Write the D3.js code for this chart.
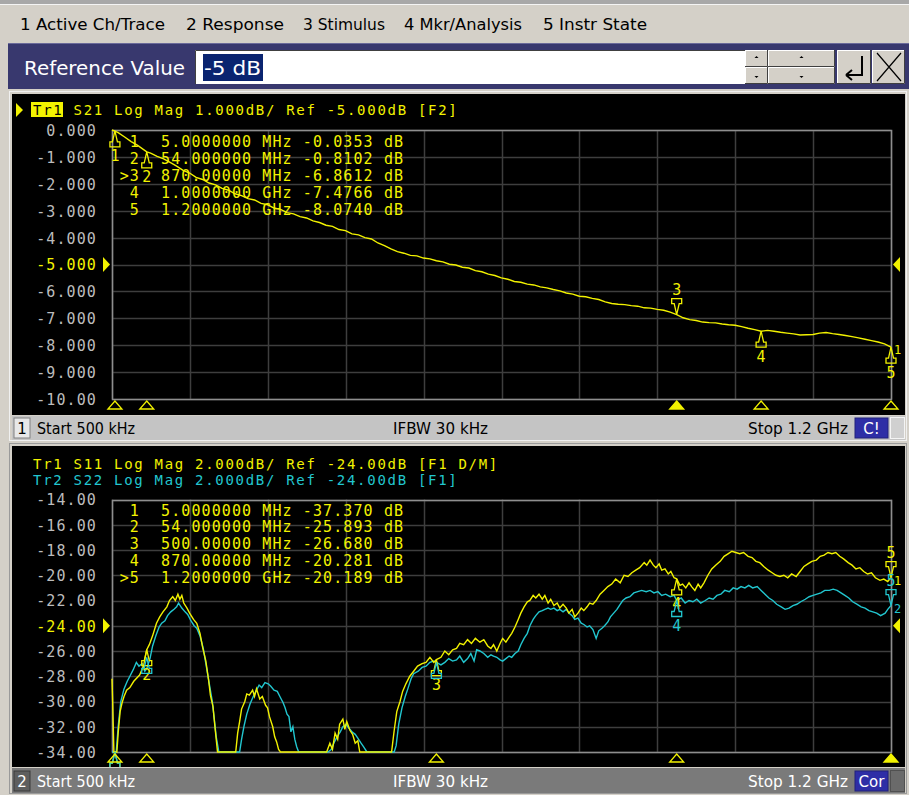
<!DOCTYPE html>
<html><head><meta charset="utf-8">
<script src="https://cdn.jsdelivr.net/npm/d3@7"></script>
<style>
body{margin:0;background:#d4d0c8;overflow:hidden}
svg{display:block}
text{white-space:pre}
</style></head><body>
<script>
// ---------------- DATA ----------------
const menuItems = ["1 Active Ch/Trace","2 Response","3 Stimulus","4 Mkr/Analysis","5 Instr State"];
const refLabel = "Reference Value";
const refEntry = "-5 dB";

const sweepStartMHz = 0.5, sweepStopMHz = 1200;
const statusTexts = ["Start 500 kHz","IFBW 30 kHz","Stop 1.2 GHz"];

// Channel 1 (S21)
const ch1Trace = "Tr1";
const ch1Header = "S21 Log Mag 1.000dB/ Ref -5.000dB [F2]";
const ch1Ticks = [0,-1,-2,-3,-4,-5,-6,-7,-8,-9,-10];
const ch1TickLabels = ["0.000","-1.000","-2.000","-3.000","-4.000","-5.000","-6.000","-7.000","-8.000","-9.000","-10.00"];
const ch1Ref = -5;
const s21 = [[0.5,-0.00],[5,-0.04],[10,-0.10],[20,-0.26],[30,-0.43],[40,-0.57],[54,-0.81],[60,-0.86],[70,-0.98],[80,-1.07],[90,-1.20],[100,-1.34],[110,-1.50],[120,-1.60],[130,-1.76],[140,-1.84],[150,-1.97],[160,-2.04],[170,-2.17],[180,-2.24],[190,-2.37],[200,-2.44],[210,-2.55],[220,-2.60],[230,-2.73],[240,-2.78],[250,-2.90],[260,-2.95],[270,-3.07],[280,-3.12],[290,-3.22],[300,-3.27],[310,-3.38],[320,-3.44],[330,-3.54],[340,-3.58],[350,-3.70],[360,-3.74],[370,-3.86],[380,-3.90],[390,-4.00],[400,-4.05],[410,-4.20],[420,-4.30],[430,-4.42],[440,-4.52],[450,-4.58],[460,-4.66],[470,-4.68],[480,-4.76],[490,-4.79],[500,-4.86],[510,-4.90],[520,-4.99],[530,-5.02],[540,-5.10],[550,-5.13],[560,-5.23],[570,-5.27],[580,-5.36],[590,-5.41],[600,-5.50],[610,-5.55],[620,-5.63],[630,-5.66],[640,-5.73],[650,-5.76],[660,-5.83],[670,-5.87],[680,-5.93],[690,-5.98],[700,-6.06],[710,-6.10],[720,-6.18],[730,-6.20],[740,-6.26],[750,-6.30],[760,-6.39],[770,-6.45],[780,-6.48],[790,-6.49],[800,-6.53],[810,-6.55],[820,-6.61],[830,-6.62],[840,-6.67],[850,-6.70],[860,-6.77],[870,-6.86],[880,-6.98],[890,-7.05],[900,-7.08],[910,-7.14],[920,-7.16],[930,-7.17],[940,-7.21],[950,-7.24],[960,-7.26],[970,-7.31],[980,-7.37],[990,-7.42],[1000,-7.48],[1010,-7.45],[1020,-7.48],[1030,-7.52],[1040,-7.55],[1050,-7.58],[1060,-7.62],[1070,-7.61],[1080,-7.60],[1090,-7.55],[1100,-7.53],[1110,-7.57],[1120,-7.60],[1130,-7.64],[1140,-7.68],[1150,-7.73],[1160,-7.78],[1170,-7.83],[1180,-7.88],[1190,-7.95],[1200,-8.07]];
const ch1MarkerIdx = ["1","2",">3","4","5"];
const ch1MarkerFreqTxt = ["5.0000000","54.000000","870.00000","1.0000000","1.2000000"];
const ch1MarkerUnit = ["MHz","MHz","MHz","GHz","GHz"];
const ch1MarkerValTxt = ["-0.0353","-0.8102","-6.8612","-7.4766","-8.0740"];
const ch1MarkerFreq = [5,54,870,1000,1200];
const ch1MarkerVal = [-0.0353,-0.8102,-6.8612,-7.4766,-8.0740];
const ch1Active = 2;

// Channel 2 (S11, S22)
const ch2Header1 = "Tr1 S11 Log Mag 2.000dB/ Ref -24.00dB [F1 D/M]";
const ch2Header2 = "Tr2 S22 Log Mag 2.000dB/ Ref -24.00dB [F1]";
const ch2Ticks = [-14,-16,-18,-20,-22,-24,-26,-28,-30,-32,-34];
const ch2TickLabels = ["-14.00","-16.00","-18.00","-20.00","-22.00","-24.00","-26.00","-28.00","-30.00","-32.00","-34.00"];
const ch2Ref = -24;
const s11 = [[0.5,-28.2],[1.5,-30.0],[3.4,-36],[5,-37.37],[8,-34.5],[10,-32.5],[13,-30.8],[16,-30.1],[19,-29.6],[23,-29.1],[28,-28.9],[34,-28.4],[43,-27.9],[49,-27.2],[54,-25.89],[58,-25.5],[63,-24.8],[69,-23.8],[74,-23.3],[79,-22.9],[85,-22.5],[89,-22.0],[94,-21.7],[98,-22.0],[102,-21.5],[105,-21.9],[108,-21.6],[111,-22.2],[116,-22.6],[120,-23.0],[126,-23.5],[131,-23.8],[136,-24.6],[140,-25.7],[145,-26.8],[149,-28.2],[152,-29.5],[156,-30.4],[159,-32.0],[162,-33.5],[163,-34.3],[174,-38],[188,-38],[191,-34.5],[194,-32.5],[197,-31.6],[200,-30.6],[205,-30.0],[208,-29.4],[212,-29.5],[217,-29.1],[220,-29.6],[223,-29.0],[228,-29.8],[232,-29.6],[237,-30.3],[240,-30.5],[243,-31.2],[248,-32.0],[251,-32.8],[254,-33.2],[257,-33.8],[260,-34.5],[290,-38],[328,-38],[331,-34.5],[336,-33.3],[340,-33.8],[344,-32.5],[348,-33.0],[351,-31.8],[356,-31.4],[359,-32.2],[362,-31.6],[367,-32.3],[371,-32.6],[375,-33.3],[379,-33.1],[382,-34.2],[385,-34.5],[413,-38],[428,-38],[431,-34.5],[435,-32.3],[439,-30.8],[444,-30.0],[448,-29.2],[453,-28.6],[459,-28.0],[465,-27.6],[471,-27.2],[478,-27.0],[484,-26.9],[490,-26.5],[496,-26.9],[500,-26.68],[507,-26.5],[513,-26.0],[519,-26.3],[525,-25.9],[531,-25.8],[536,-25.4],[542,-25.5],[548,-25.1],[554,-25.4],[560,-25.0],[567,-25.3],[573,-25.1],[579,-25.6],[584,-25.8],[588,-25.5],[593,-26.0],[598,-25.4],[602,-25.0],[607,-25.3],[612,-24.9],[616,-24.6],[621,-24.1],[626,-23.5],[630,-23.0],[635,-22.5],[640,-22.1],[644,-22.0],[649,-21.6],[653,-21.8],[658,-21.5],[663,-21.9],[667,-21.6],[672,-22.2],[676,-21.9],[681,-22.4],[686,-22.2],[690,-22.6],[695,-22.3],[700,-22.6],[704,-23.0],[709,-22.7],[713,-23.3],[718,-23.0],[723,-22.6],[727,-22.8],[732,-22.5],[736,-22.2],[741,-22.3],[746,-22.0],[752,-21.5],[758,-21.2],[764,-20.9],[770,-20.7],[776,-20.3],[783,-20.6],[789,-20.0],[795,-20.1],[801,-19.8],[807,-19.6],[813,-19.4],[820,-19.0],[824,-19.2],[829,-18.8],[834,-19.2],[838,-19.4],[843,-19.1],[847,-19.6],[852,-19.5],[857,-19.9],[861,-19.7],[866,-20.2],[870,-20.28],[875,-20.8],[879,-20.7],[884,-21.0],[889,-20.6],[893,-20.9],[898,-21.2],[903,-20.7],[907,-21.0],[912,-20.6],[918,-20.0],[924,-19.5],[930,-19.2],[937,-18.9],[943,-18.5],[949,-18.3],[955,-18.1],[961,-18.2],[967,-18.3],[973,-18.2],[980,-18.5],[986,-18.6],[992,-18.9],[998,-19.0],[1004,-19.3],[1011,-19.6],[1017,-19.8],[1023,-20.0],[1029,-20.1],[1035,-20.0],[1041,-20.2],[1047,-19.9],[1054,-20.1],[1060,-19.7],[1066,-19.3],[1072,-19.1],[1078,-18.9],[1085,-18.8],[1091,-18.5],[1097,-18.4],[1103,-18.2],[1109,-18.3],[1115,-18.2],[1121,-18.5],[1127,-18.7],[1134,-19.0],[1140,-19.2],[1146,-19.5],[1152,-19.4],[1158,-19.7],[1164,-19.9],[1170,-19.8],[1176,-20.2],[1183,-20.4],[1189,-20.3],[1195,-20.5],[1200,-20.19]];
const s22 = [[0.5,-38],[7,-36],[10,-32.0],[14,-30.0],[19,-29.0],[24,-28.4],[28,-28.0],[33,-27.5],[38,-26.9],[42,-27.2],[47,-27.0],[51,-27.6],[54,-27.4],[59,-26.6],[63,-25.6],[68,-24.8],[73,-24.1],[77,-23.8],[82,-23.6],[86,-23.2],[91,-22.9],[96,-22.7],[100,-22.5],[103,-22.2],[108,-22.6],[113,-22.9],[117,-23.1],[122,-23.6],[127,-24.0],[131,-24.2],[136,-24.8],[141,-25.8],[145,-27.0],[150,-28.5],[155,-30.0],[158,-31.4],[161,-32.8],[164,-33.7],[165,-34.5],[181,-38],[194,-36],[197,-34.0],[200,-33.0],[204,-31.9],[208,-31.0],[213,-30.2],[218,-29.6],[222,-29.2],[227,-28.7],[231,-28.9],[236,-28.5],[241,-28.6],[245,-28.8],[250,-29.1],[255,-29.2],[259,-29.6],[264,-30.1],[267,-30.5],[270,-31.0],[273,-31.2],[276,-32.4],[279,-32.0],[282,-33.0],[285,-33.6],[288,-34.3],[310,-38],[333,-35],[338,-33.8],[342,-33.3],[347,-32.8],[352,-32.4],[356,-32.0],[361,-31.8],[365,-32.1],[370,-32.4],[375,-32.6],[379,-32.9],[384,-33.3],[388,-33.6],[393,-34.0],[396,-34.5],[420,-38],[435,-35],[438,-33.5],[442,-31.8],[447,-30.5],[452,-29.6],[456,-29.0],[461,-28.2],[465,-27.8],[472,-27.6],[478,-27.3],[484,-27.2],[490,-26.9],[496,-26.8],[500,-26.9],[507,-27.1],[513,-26.9],[519,-26.6],[525,-26.8],[531,-26.7],[536,-26.4],[542,-26.9],[548,-26.6],[553,-26.2],[558,-26.8],[562,-25.9],[567,-26.0],[573,-26.2],[579,-26.5],[584,-26.3],[588,-26.4],[593,-26.5],[598,-26.7],[602,-26.8],[607,-26.6],[612,-26.4],[616,-26.5],[621,-26.2],[626,-26.0],[630,-25.5],[635,-25.0],[640,-24.6],[644,-24.0],[649,-23.5],[653,-23.2],[658,-22.9],[663,-22.8],[667,-22.7],[672,-22.6],[676,-22.7],[681,-22.6],[686,-22.8],[690,-22.7],[695,-22.9],[700,-22.7],[704,-23.0],[709,-23.2],[713,-23.5],[718,-23.4],[723,-23.8],[727,-23.9],[732,-24.1],[736,-24.0],[741,-24.3],[746,-25.0],[750,-24.4],[755,-24.2],[759,-24.0],[764,-23.7],[768,-23.3],[773,-23.0],[778,-22.7],[783,-22.3],[787,-22.0],[792,-21.8],[798,-21.7],[804,-21.4],[810,-21.3],[816,-21.2],[823,-21.3],[829,-21.2],[835,-21.4],[841,-21.3],[847,-21.6],[853,-21.5],[860,-21.7],[866,-21.6],[870,-22.0],[877,-21.8],[883,-22.2],[889,-22.0],[895,-22.1],[901,-21.9],[907,-22.2],[914,-22.0],[920,-21.8],[926,-21.9],[932,-21.6],[938,-21.5],[944,-21.2],[951,-21.3],[957,-21.0],[963,-21.1],[969,-20.9],[975,-21.0],[981,-20.8],[987,-21.0],[994,-20.9],[1000,-21.2],[1006,-21.5],[1012,-21.8],[1018,-22.0],[1024,-22.3],[1031,-22.5],[1037,-22.7],[1043,-22.6],[1049,-22.4],[1055,-22.3],[1061,-22.1],[1068,-21.9],[1074,-21.7],[1080,-21.6],[1086,-21.5],[1092,-21.4],[1098,-21.2],[1105,-21.2],[1111,-21.1],[1117,-21.2],[1123,-21.4],[1129,-21.6],[1135,-21.8],[1141,-22.1],[1148,-22.3],[1154,-22.5],[1160,-22.6],[1166,-22.8],[1172,-22.9],[1178,-23.0],[1184,-23.2],[1191,-23.0],[1195,-22.7],[1200,-22.4]];
const ch2MarkerIdx = ["1","2","3","4",">5"];
const ch2MarkerFreqTxt = ["5.0000000","54.000000","500.00000","870.00000","1.2000000"];
const ch2MarkerUnit = ["MHz","MHz","MHz","MHz","GHz"];
const ch2MarkerValTxt = ["-37.370","-25.893","-26.680","-20.281","-20.189"];
const ch2MarkerFreq = [5,54,500,870,1200];
const ch2MarkerS11 = [-37.370,-25.893,-26.680,-20.281,-20.189];
const ch2MarkerS22 = [-37.5,-26.5,-26.9,-22.0,-22.4];
const ch2Active = 4;

// ---------------- STYLE ----------------
const MONO = "'DejaVu Sans Mono', monospace";
const SANS = "'DejaVu Sans', 'Liberation Sans', sans-serif";
const YEL = "#f2f200", CYN = "#22c6cf", LBL = "#bcbcbc", GRID = "#3e3e3e", FRAME = "#8e8e8e";
const BG = "#d4d0c8";
const PITCH = 10.13;

const svg = d3.select("body").append("svg").attr("width",909).attr("height",795);

// ---------- top menu ----------
svg.append("rect").attr("x",0).attr("y",0).attr("width",909).attr("height",795).attr("fill",BG);
svg.append("rect").attr("x",0).attr("y",0).attr("width",909).attr("height",4).attr("fill","#a8a8a8");
svg.append("line").attr("x1",0).attr("x2",909).attr("y1",4.5).attr("y2",4.5).attr("stroke","#f4f4f4");
const menuX = [20,186,303,404,543], menuW = [145,98,82,118,104];
svg.selectAll(".menu").data(menuItems).enter().append("text")
  .attr("x",(d,i)=>menuX[i]).attr("y",30).attr("font-family",SANS).attr("font-size",15)
  .attr("textLength",(d,i)=>menuW[i]).attr("lengthAdjust","spacingAndGlyphs").attr("fill","#000").text(d=>d);

// ---------- reference value bar ----------
svg.append("rect").attr("x",8).attr("y",43).attr("width",901).attr("height",46).attr("fill","#38386e");
svg.append("line").attr("x1",8).attr("x2",909).attr("y1",43.5).attr("y2",43.5).attr("stroke","#6a6a9a");
svg.append("text").attr("x",24).attr("y",75).attr("font-family",SANS).attr("font-size",20)
  .attr("textLength",161).attr("lengthAdjust","spacingAndGlyphs").attr("fill","#fff").text(refLabel);
svg.append("rect").attr("x",195).attr("y",50).attr("width",550).attr("height",34).attr("fill","#fff");
svg.append("path").attr("d","M195.5,84 V50.5 H745").attr("fill","none").attr("stroke","#404040");
svg.append("rect").attr("x",203).attr("y",54).attr("width",60).attr("height",27).attr("fill","#0a2470");
svg.append("text").attr("x",204).attr("y",75).attr("font-family",SANS).attr("font-size",20)
  .attr("textLength",57).attr("lengthAdjust","spacingAndGlyphs").attr("fill","#fff").text(refEntry);
function btn(x,y,w,h){
  const g = svg.append("g");
  g.append("rect").attr("x",x).attr("y",y).attr("width",w).attr("height",h).attr("fill",BG);
  g.append("path").attr("d",`M${x+0.5},${y+h} V${y+0.5} H${x+w}`).attr("fill","none").attr("stroke","#fff");
  g.append("path").attr("d",`M${x},${y+h-0.5} H${x+w-0.5} V${y}`).attr("fill","none").attr("stroke","#404040");
  return g;
}
btn(745,50,23,17); btn(745,67,23,17); btn(768,50,67,17); btn(768,67,67,17);
[[756.5,58,-1],[756.5,76,1],[801.5,58,-1],[801.5,76,1]].forEach(([x,y,s])=>{
  svg.append("path").attr("d",`M${x-2},${y} L${x+2},${y} L${x},${y+2*s} Z`).attr("fill","#000");
});
btn(837,50,34,34); btn(872,50,33,34);
svg.append("path").attr("d","M862,56 V75 H846 M846,75 l6,-5 M846,75 l6,5").attr("fill","none").attr("stroke","#000").attr("stroke-width",2);
svg.append("path").attr("d","M877,53 L901,81 M901,53 L877,81").attr("fill","none").attr("stroke","#000").attr("stroke-width",1.2);

// ---------- channel panel frames ----------
function panel(y0, y1, sy0, sy1, active){
  svg.append("rect").attr("x",8).attr("y",y0-3).attr("width",901).attr("height",sy1-y0+5).attr("fill",BG);
  svg.append("rect").attr("x",9.5).attr("y",y0-2.5).attr("width",897).attr("height",sy1-y0+3)
    .attr("fill","none").attr("stroke",active?"#f0f0f0":"#9a9a9a");
  svg.append("rect").attr("x",12).attr("y",y0).attr("width",893).attr("height",y1-y0).attr("fill","#000");
  svg.append("rect").attr("x",12).attr("y",sy0).attr("width",893).attr("height",sy1-sy0)
    .attr("fill",active?"#c4c4c4":"#7a7a7a");
}
panel(94,415,416,440,true);
panel(446,767,768,793,false);

// ---------- status bars ----------
function status(yc, num, active, flag){
  const tc = active?"#000":"#fff";
  svg.append("rect").attr("x",14).attr("y",yc-10).attr("width",16).attr("height",20)
    .attr("fill",active?"#e8e8e8":"#5e5e5e").attr("stroke",active?"#808080":"#3a3a3a");
  svg.append("text").attr("x",22).attr("y",yc+5.5).attr("text-anchor","middle").attr("font-family",SANS)
    .attr("font-size",15).attr("fill",tc).text(num);
  const sx=[37,393,748], sw=[98,95,100];
  statusTexts.forEach((t,i)=>svg.append("text").attr("x",sx[i]).attr("y",yc+5.5).attr("font-family",SANS)
    .attr("font-size",15).attr("textLength",sw[i]).attr("lengthAdjust","spacingAndGlyphs").attr("fill",tc).text(t));
  svg.append("rect").attr("x",855).attr("y",yc-10).attr("width",33).attr("height",20).attr("fill","#2e2ea6")
    .attr("stroke","#20207a");
  svg.append("text").attr("x",871.5).attr("y",yc+5.5).attr("text-anchor","middle").attr("font-family",SANS)
    .attr("font-size",15).attr("fill","#fff").text(flag);
  svg.append("rect").attr("x",890.5).attr("y",yc-10.5).attr("width",14).attr("height",21)
    .attr("fill",active?"#d0d0d0":"#6a6a6a").attr("stroke",active?"#f4f4f4":"#505050");
}
status(428,"1",true,"C!");
status(781,"2",false,"Cor");

// ---------- chart builder ----------
function chart(cfg){
  const x = d3.scaleLinear().domain([sweepStartMHz,sweepStopMHz]).range([112,891]);
  const y = d3.scaleLinear().domain(cfg.domain).range([cfg.bottom,cfg.top]).clamp(true);
  const g = svg.append("g");
  // grid
  const xs = d3.range(11).map(i=>112+i*(891-112)/10);
  g.selectAll(".hg").data(cfg.ticks).enter().append("line")
    .attr("x1",112).attr("x2",891).attr("y1",d=>Math.round(y(d))+0.5).attr("y2",d=>Math.round(y(d))+0.5)
    .attr("stroke",GRID).attr("stroke-width",1.5);
  g.selectAll(".vg").data(xs).enter().append("line")
    .attr("x1",d=>Math.round(d)+0.5).attr("x2",d=>Math.round(d)+0.5).attr("y1",cfg.top).attr("y2",cfg.bottom)
    .attr("stroke",GRID).attr("stroke-width",1.5);
  g.append("rect").attr("x",112.5).attr("y",Math.round(cfg.top)+0.5).attr("width",779)
    .attr("height",Math.round(cfg.bottom)-Math.round(cfg.top)).attr("fill","none").attr("stroke",FRAME).attr("stroke-width",1.5);
  // y axis labels
  const ax = d3.axisLeft(y).tickValues(cfg.ticks).tickFormat((d,i)=>cfg.tickLabels[i]).tickSize(0).tickPadding(0);
  const ag = g.append("g").attr("transform","translate(97,0)").call(ax);
  ag.select(".domain").remove();
  ag.selectAll("text").attr("font-family",MONO).attr("font-size",15).attr("letter-spacing",1.1)
    .attr("dy","0.36em").attr("fill",d=>d===cfg.ref?YEL:LBL);
  // reference arrows
  const ry = y(cfg.ref);
  g.append("path").attr("d",`M103,${ry-7.5} L110,${ry} L103,${ry+7.5} Z`).attr("fill",YEL);
  g.append("path").attr("d",`M900,${ry-7.5} L893,${ry} L900,${ry+7.5} Z`).attr("fill",YEL);
  // header
  cfg.headers.forEach((h,i)=>{
    g.append("text").attr("x",h.x).attr("y",cfg.headerY+i*16).attr("font-family",MONO).attr("font-size",14)
      .attr("letter-spacing",1.7).attr("fill",h.color).text(h.text);
  });
  // marker table
  cfg.table.idx.forEach((t,i)=>{
    const by = cfg.tableY + i*cfg.tableDy;
    g.append("text").attr("x",140).attr("y",by).attr("text-anchor","end").attr("font-family",MONO)
      .attr("font-size",15).attr("letter-spacing",1.1).attr("fill",YEL).text(t);
    g.append("text").attr("x",161).attr("y",by).attr("font-family",MONO).attr("font-size",15)
      .attr("letter-spacing",1.1).attr("fill",YEL)
      .text(cfg.table.freq[i]+" "+cfg.table.unit[i]+" "+cfg.table.val[i]+" dB");
  });
  // clip for traces and markers
  const cid = "clip"+cfg.id;
  svg.append("clipPath").attr("id",cid).append("rect").attr("x",12).attr("y",cfg.top-6).attr("width",893)
    .attr("height",cfg.panelBottom-cfg.top+6);
  const tg = g.append("g").attr("clip-path",`url(#${cid})`);
  const line = d3.line().x(d=>x(d[0])).y(d=>y(d[1]));
  cfg.traces.forEach(tr=>{
    tg.append("path").datum(tr.data).attr("d",line).attr("fill","none").attr("stroke",tr.color)
      .attr("stroke-width",1.4).attr("stroke-linejoin","miter");
  });
  // markers on traces (front trace first so its labels win)
  const placed = [];
  cfg.traces.slice().reverse().forEach(tr=>{
    cfg.markerFreq.forEach((f,i)=>{
      const mx = x(f), my = y(tr.mvals[i]);
      const s = (i===cfg.active) ? -1 : 1;
      const p = `M0,0 L${-2.5},${11*s} L-5,${11*s} L-5,${16*s} L5,${16*s} L5,${11*s} L2.5,${11*s} Z`;
      tg.append("path").attr("d",p).attr("transform",`translate(${mx},${my})`).attr("fill","none")
        .attr("stroke",tr.color).attr("stroke-width",1.3);
      const ly = my + (s>0?30.5:-19.5);
      const clash = placed.some(q=>Math.abs(q[0]-mx)<9 && Math.abs(q[1]-ly)<14);
      if (tr.mvals[i] >= cfg.domain[0] && !clash){
        tg.append("text").attr("x",mx).attr("y",ly).attr("text-anchor","middle")
          .attr("font-family",MONO).attr("font-size",15).attr("fill",tr.color).text(String(i+1));
        placed.push([mx,ly]);
      }
    });
  });
  // trace number at right end
  cfg.traces.forEach(tr=>{
    const last = tr.data[tr.data.length-1];
    tg.append("text").attr("x",894).attr("y",y(last[1])+7).attr("font-family",MONO).attr("font-size",12)
      .attr("fill",tr.color).text(tr.num);
  });
  // stimulus-axis marker triangles
  cfg.markerFreq.forEach((f,i)=>{
    const mx = x(f), ty = Math.round(cfg.bottom)+2;
    g.append("path").attr("d",`M${mx},${ty} L${mx+7},${ty+8} L${mx-7},${ty+8} Z`)
      .attr("fill",i===cfg.active?YEL:"none").attr("stroke",YEL).attr("stroke-width",1.3);
  });
}

chart({
  id:1, domain:[-10,0], top:130, bottom:399, panelBottom:415,
  ticks:ch1Ticks, tickLabels:ch1TickLabels, ref:ch1Ref,
  headers:[{text:ch1Header,color:YEL,x:33+4*PITCH}], headerY:115,
  table:{idx:ch1MarkerIdx,freq:ch1MarkerFreqTxt,unit:ch1MarkerUnit,val:ch1MarkerValTxt}, tableY:146.5, tableDy:17,
  traces:[{data:s21,color:YEL,mvals:ch1MarkerVal,num:"1"}],
  markerFreq:ch1MarkerFreq, active:ch1Active
});
// Tr1 active badge in channel 1 header
svg.append("path").attr("d","M16,103 L23,110 L16,117 Z").attr("fill",YEL);
svg.append("rect").attr("x",31).attr("y",102).attr("width",32).attr("height",15).attr("fill",YEL);
svg.append("text").attr("x",33).attr("y",115).attr("font-family",MONO).attr("font-size",14)
  .attr("letter-spacing",1.7).attr("fill","#000").text(ch1Trace);

chart({
  id:2, domain:[-34,-14], top:499.5, bottom:752, panelBottom:767,
  ticks:ch2Ticks, tickLabels:ch2TickLabels, ref:ch2Ref,
  headers:[{text:ch2Header1,color:YEL,x:33},{text:ch2Header2,color:CYN,x:33}], headerY:468.5,
  table:{idx:ch2MarkerIdx,freq:ch2MarkerFreqTxt,unit:ch2MarkerUnit,val:ch2MarkerValTxt}, tableY:515.5, tableDy:16.8,
  traces:[{data:s22,color:CYN,mvals:ch2MarkerS22,num:"2"},{data:s11,color:YEL,mvals:ch2MarkerS11,num:"1"}],
  markerFreq:ch2MarkerFreq, active:ch2Active
});
</script></body></html>
